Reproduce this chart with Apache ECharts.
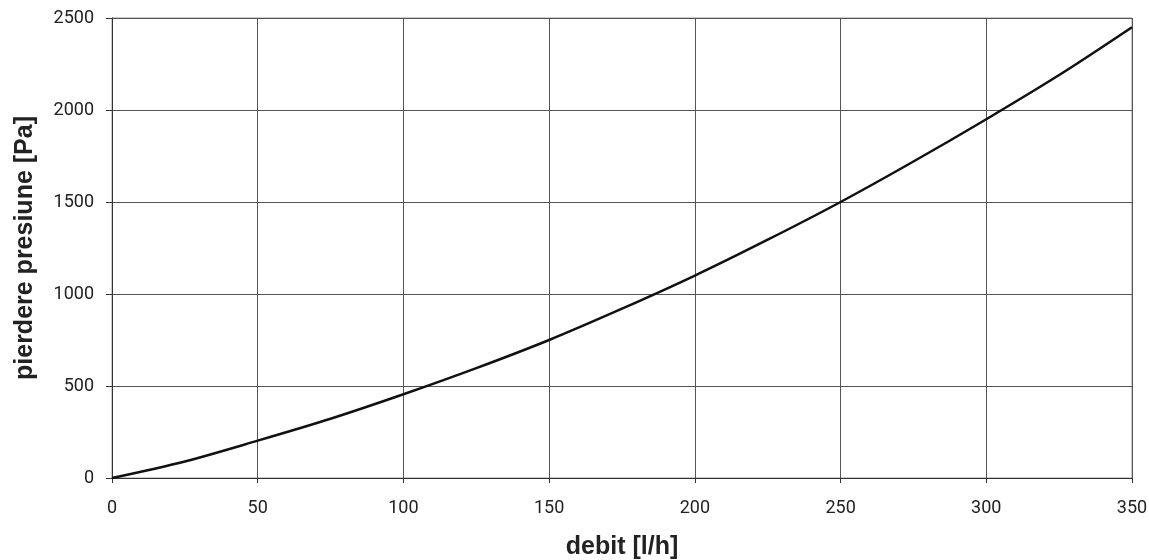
<!DOCTYPE html>
<html><head><meta charset="utf-8">
<script src="https://cdn.jsdelivr.net/npm/echarts@6/dist/echarts.min.js"></script>
<style>html,body{margin:0;padding:0;background:#fff}#c{width:1149px;height:560px}</style>
</head><body><div id="c"></div>
<script>
const flow = [0, 25, 50, 75, 100, 125, 150, 175, 200, 225, 250, 275, 300, 325, 350];
const pressure = [0, 90, 203, 322, 455, 597, 750, 920, 1100, 1295, 1500, 1720, 1950, 2190, 2450];
const xTitle = 'debit [l/h]';
const yTitle = 'pierdere presiune [Pa]';
const labelFont = 'Roboto, sans-serif';
const titleFont = '"Liberation Sans", Arial, sans-serif';
const chart = echarts.init(document.getElementById('c'));
chart.setOption({
  animation: false,
  grid: {left: 112, right: 17, top: 18, bottom: 82, show: true, borderColor: '#999', borderWidth: 1,
         containLabel: false, outerBoundsMode: 'none'},
  xAxis: {
    type: 'value', min: 0, max: 350, interval: 50,
    name: xTitle, nameLocation: 'middle', nameGap: 57,
    nameTextStyle: {fontFamily: titleFont, fontWeight: 'bold', fontSize: 25, color: '#222'},
    axisLine: {lineStyle: {color: '#333', width: 1}},
    axisTick: {show: true, length: 5, lineStyle: {color: '#333'}},
    axisLabel: {margin: 21, fontFamily: labelFont, fontSize: 18, color: '#222', formatter: v => String(v)},
    splitLine: {show: true, lineStyle: {color: '#555', width: 1}}
  },
  yAxis: {
    type: 'value', min: 0, max: 2500, interval: 500,
    name: yTitle, nameLocation: 'middle', nameGap: 74,
    nameTextStyle: {fontFamily: titleFont, fontWeight: 'bold', fontSize: 25, color: '#222'},
    axisLine: {show: true, lineStyle: {color: '#333', width: 1}},
    axisTick: {show: true, length: 6, lineStyle: {color: '#333'}},
    axisLabel: {margin: 18, fontFamily: labelFont, fontSize: 18, color: '#222', formatter: v => String(v)},
    splitLine: {show: true, lineStyle: {color: '#555', width: 1}}
  },
  series: [{
    type: 'line', smooth: 0.3, symbol: 'none',
    data: flow.map((f, i) => [f, pressure[i]]),
    lineStyle: {color: '#111', width: 2.5}
  }]
});
</script></body></html>
